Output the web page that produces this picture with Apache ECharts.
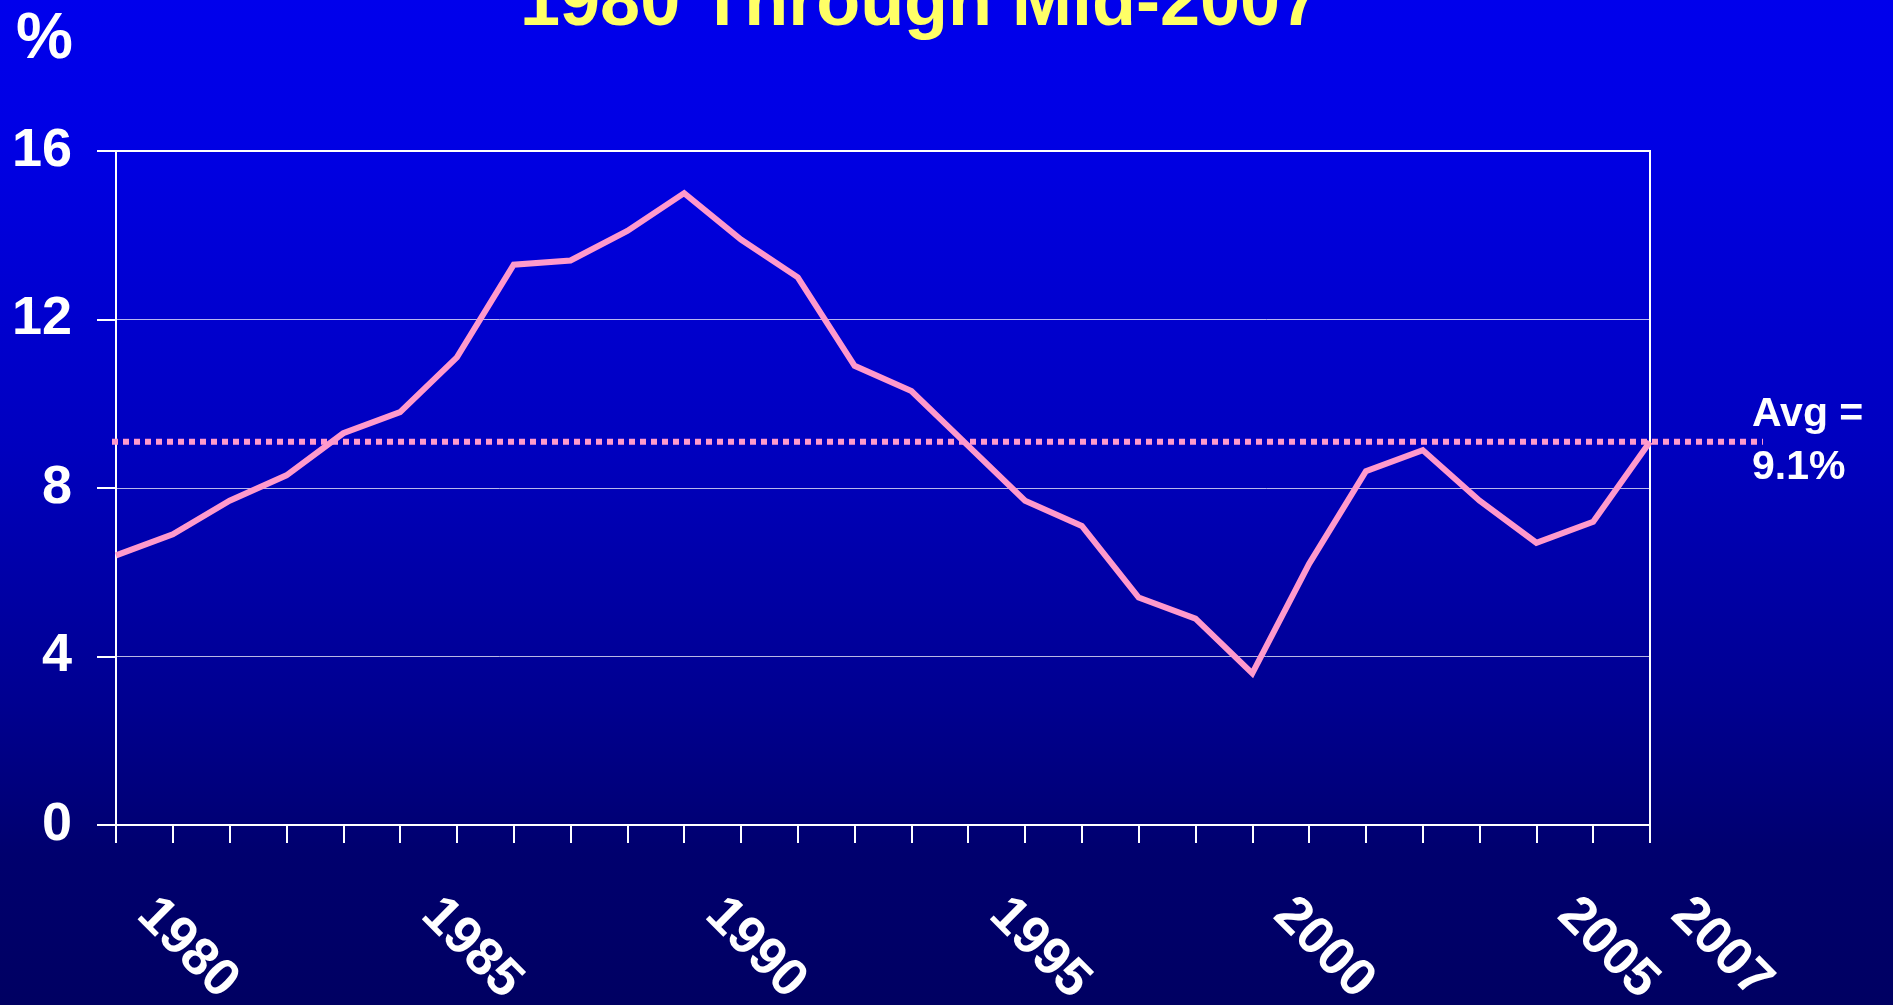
<!DOCTYPE html>
<html>
<head>
<meta charset="utf-8">
<script src="https://cdn.jsdelivr.net/npm/echarts@6/dist/echarts.min.js"></script>
<style>
  html, body { margin: 0; padding: 0; background: #000066; }
  #chart { width: 1893px; height: 1005px; }
</style>
</head>
<body>
<div id="chart"></div>
<script>
// ---- data ----
var years = ['1980','1981','1982','1983','1984','1985','1986','1987','1988','1989',
             '1990','1991','1992','1993','1994','1995','1996','1997','1998','1999',
             '2000','2001','2002','2003','2004','2005','2006','2007'];
var rates = [6.4, 6.9, 7.7, 8.3, 9.3, 9.8, 11.1, 13.3, 13.4, 14.1,
             15.0, 13.9, 13.0, 10.9, 10.3, 9.0, 7.7, 7.1, 5.4, 4.9,
             3.6, 6.2, 8.4, 8.9, 7.7, 6.7, 7.2, 9.1];
var labeledYears = ['1980','1985','1990','1995','2000','2005','2007'];
var avgValue = 9.1;
var yTicks = [0, 4, 8, 12, 16];
var titleText = '1980 Through Mid-2007';
var unitText = '%';

var FONT = "'Liberation Sans', Arial, sans-serif";
var PINK = '#FF99CC';
var WHITE = '#FFFFFF';

var chart = echarts.init(document.getElementById('chart'), null, { renderer: 'canvas' });

var option = {
  animation: false,
  backgroundColor: {
    type: 'linear', x: 0, y: 0, x2: 0, y2: 1,
    colorStops: [
      { offset: 0, color: '#0000EC' },
      { offset: 0.15, color: '#0000E3' },
      { offset: 0.45, color: '#0000BE' },
      { offset: 0.7, color: '#000090' },
      { offset: 0.85, color: '#00006E' },
      { offset: 1, color: '#000062' }
    ]
  },
  title: [
    {
      text: titleText,
      left: 520, top: -31, padding: 0,
      textStyle: {
        color: '#FFFF66', fontSize: 72, fontWeight: 'bold', fontFamily: FONT,
        textShadowColor: '#000000', textShadowOffsetX: 3, textShadowOffsetY: 3, textShadowBlur: 0
      }
    },
    {
      text: unitText,
      left: 16, top: 8, padding: 0,
      textStyle: { color: WHITE, fontSize: 64, fontWeight: 'bold', fontFamily: FONT }
    }
  ],
  grid: [
    { left: 116, right: 243, top: 151, bottom: 180, outerBoundsMode: 'none', containLabel: false,
      show: true, borderColor: WHITE, borderWidth: 2, backgroundColor: 'transparent' },
    { left: 112, right: 130, top: 151, bottom: 180, outerBoundsMode: 'none', containLabel: false, show: false }
  ],
  xAxis: [
    {
      gridIndex: 0,
      type: 'category',
      data: years,
      boundaryGap: false,
      axisLine: { show: true, lineStyle: { color: WHITE, width: 2 } },
      axisTick: { show: true, interval: 0, length: 18, lineStyle: { color: WHITE, width: 2 } },
      splitLine: { show: false },
      axisLabel: {
        interval: function (idx, val) { return labeledYears.indexOf(val) >= 0; },
        rotate: -45,
        margin: 52,
        padding: [0, 0, 0, 42],
        color: WHITE, fontSize: 53, fontWeight: 'bold', fontFamily: FONT
      }
    },
    {
      gridIndex: 1, type: 'value', min: 0, max: 1, show: false
    }
  ],
  yAxis: [
    {
      gridIndex: 0,
      type: 'value',
      min: yTicks[0], max: yTicks[yTicks.length - 1], interval: yTicks[1] - yTicks[0],
      axisLine: { show: true, lineStyle: { color: WHITE, width: 2 } },
      axisTick: { show: true, length: 19, lineStyle: { color: WHITE, width: 2 } },
      splitLine: { show: true, lineStyle: { color: 'rgba(255,255,255,0.72)', width: 1 } },
      axisLabel: { margin: 44, color: WHITE, fontSize: 54, fontWeight: 'bold', fontFamily: FONT }
    },
    {
      gridIndex: 1, type: 'value',
      min: yTicks[0], max: yTicks[yTicks.length - 1], show: false
    }
  ],
  series: [
    {
      type: 'line',
      xAxisIndex: 0, yAxisIndex: 0,
      data: rates,
      symbol: 'none',
      smooth: false,
      lineStyle: { color: PINK, width: 6, join: 'miter' },
      z: 3
    },
    {
      type: 'line',
      xAxisIndex: 1, yAxisIndex: 1,
      data: [[0, avgValue], [1, avgValue]],
      symbol: 'none',
      lineStyle: { color: PINK, width: 6, type: [6, 5], cap: 'butt' },
      endLabel: {
        show: true,
        formatter: function () { return 'Avg =\n' + avgValue.toFixed(1) + '%'; },
        distance: 0,
        offset: [-11, 0],
        color: WHITE, fontSize: 41, fontWeight: 'bold', fontFamily: FONT,
        lineHeight: 53, align: 'left'
      },
      z: 4
    }
  ]
};

chart.setOption(option);
</script>
</body>
</html>
